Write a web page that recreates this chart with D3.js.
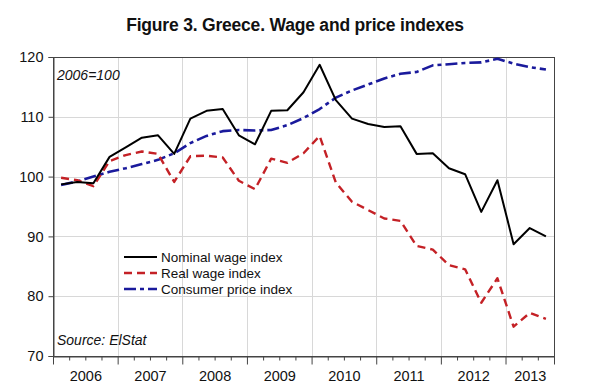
<!DOCTYPE html>
<html>
<head>
<meta charset="utf-8">
<script src="https://cdn.jsdelivr.net/npm/d3@7"></script>
<style>
  html, body { margin: 0; padding: 0; background: #fff; }
  svg { display: block; font-family: "Liberation Sans", Arial, sans-serif; }
</style>
</head>
<body>
<svg id="chart" width="600" height="391"></svg>
<script>
// ---- Data (quarterly, 2006Q1 - 2013Q3), 2006 = 100 ----
const years = ["2006", "2007", "2008", "2009", "2010", "2011", "2012", "2013"];
const quarters = [];
years.forEach(y => ["Q1", "Q2", "Q3", "Q4"].forEach(q => quarters.push(y + q)));
quarters.splice(31); // last observation 2013Q3

const nominalWage = [98.7, 99.1, 98.9, 103.3, 104.9, 106.5, 106.9, 103.8, 109.7, 111.0, 111.3, 106.9,
  105.4, 111.0, 111.1, 114.1, 118.7, 112.8, 109.7, 108.8, 108.3, 108.4, 103.8, 103.9,
  101.4, 100.4, 94.1, 99.4, 88.7, 91.4, 90.0];
const realWage = [99.8, 99.4, 98.4, 102.6, 103.6, 104.2, 103.8, 99.1, 103.4, 103.5, 103.2, 99.3,
  97.9, 103.0, 102.3, 103.9, 106.8, 99.0, 95.8, 94.4, 93.0, 92.6, 88.4, 87.8,
  85.2, 84.5, 78.9, 83.0, 74.9, 77.2, 76.2];
const cpi = [98.6, 99.2, 100.0, 100.8, 101.4, 102.1, 102.8, 103.9, 105.6, 106.8, 107.6, 107.8,
  107.7, 107.8, 108.6, 109.8, 111.3, 113.2, 114.4, 115.4, 116.4, 117.2, 117.5, 118.6,
  118.8, 119.0, 119.1, 119.7, 118.9, 118.3, 117.9];
const yTicks = [70, 80, 90, 100, 110, 120];
const seriesNames = ["Nominal wage index", "Real wage index", "Consumer price index"];

// ---- Layout ----
const svg = d3.select("#chart");
const W = 600, H = 391;
const m = { left: 53, right: 46, top: 57, bottom: 35 };
const iw = W - m.left - m.right, ih = H - m.top - m.bottom;
const n = quarters.length;

const x = d3.scaleLinear().domain([0, n]).range([m.left, m.left + iw]);
const y = d3.scaleLinear().domain([70, 120]).range([m.top + ih, m.top]);

// Title
svg.append("text")
  .attr("x", 295).attr("y", 31)
  .attr("text-anchor", "middle")
  .attr("font-size", 17.5).attr("font-weight", "bold")
  .attr("letter-spacing", -0.2)
  .attr("fill", "#111")
  .text("Figure 3. Greece. Wage and price indexes");

// Gridlines
const grid = svg.append("g").attr("stroke", "#d8d8d8").attr("stroke-width", 1);
yTicks.filter(v => v > 70 && v < 120).forEach(v => {
  grid.append("line").attr("x1", m.left).attr("x2", m.left + iw)
    .attr("y1", Math.round(y(v)) + 0.5).attr("y2", Math.round(y(v)) + 0.5);
});
years.slice(1).forEach((yr, k) => {
  const xv = Math.round(x((k + 1) * 4)) + 0.5;
  grid.append("line").attr("x1", xv).attr("x2", xv).attr("y1", m.top).attr("y2", m.top + ih);
});

// Frame
svg.append("rect")
  .attr("x", m.left + 0.5).attr("y", m.top + 0.5)
  .attr("width", iw).attr("height", ih)
  .attr("fill", "none").attr("stroke", "#444").attr("stroke-width", 1);

// Y axis
const yAxis = svg.append("g")
  .attr("transform", `translate(${m.left + 0.5},0)`)
  .call(d3.axisLeft(y).tickValues(yTicks).tickSize(5).tickPadding(5));
yAxis.select(".domain").attr("stroke", "#444");
yAxis.selectAll(".tick line").attr("stroke", "#444");
yAxis.selectAll("text").attr("font-size", 14.5).attr("fill", "#111")
  .attr("font-family", "Liberation Sans, Arial, sans-serif");

// X axis: minor (quarter) ticks and major (year) ticks
const qBounds = d3.range(0, n + 1);
const xMinor = svg.append("g")
  .attr("transform", `translate(0,${m.top + ih + 0.5})`)
  .call(d3.axisBottom(x).tickValues(qBounds.filter(v => v % 4 !== 0 && v !== n)).tickSize(4).tickFormat(""));
xMinor.select(".domain").attr("stroke", "#444");
xMinor.selectAll(".tick line").attr("stroke", "#444");
const xMajor = svg.append("g")
  .attr("transform", `translate(0,${m.top + ih + 0.5})`)
  .call(d3.axisBottom(x).tickValues(qBounds.filter(v => v % 4 === 0 || v === n)).tickSize(8).tickFormat(""));
xMajor.select(".domain").remove();
xMajor.selectAll(".tick line").attr("stroke", "#444");

// Year labels centred on their span
const yearCenters = years.map((yr, k) => {
  const start = k * 4, end = Math.min(n, start + 4);
  return (start + end) / 2;
});
const xLab = svg.append("g")
  .attr("transform", `translate(0,${m.top + ih + 0.5})`)
  .call(d3.axisBottom(x).tickValues(yearCenters).tickSize(0).tickPadding(14)
    .tickFormat((d, i) => years[i]));
xLab.select(".domain").remove();
xLab.selectAll("text").attr("font-size", 14.5).attr("fill", "#111")
  .attr("font-family", "Liberation Sans, Arial, sans-serif");

// Lines
const line = d3.line().x((d, i) => x(i + 0.5)).y(d => y(d));
const styles = [
  { data: nominalWage, color: "#000000", width: 2, dash: null },
  { data: realWage, color: "#c42126", width: 2.4, dash: "8,5" },
  { data: cpi, color: "#1a1a9c", width: 2.6, dash: "12,4,4,4" }
];
// draw CPI first, then real, then nominal on top
[2, 1, 0].forEach(k => {
  const s = styles[k];
  svg.append("path").datum(s.data)
    .attr("d", line)
    .attr("fill", "none")
    .attr("stroke", s.color)
    .attr("stroke-width", s.width)
    .attr("stroke-linejoin", "round")
    .attr("stroke-dasharray", s.dash);
});

// Annotations
svg.append("text").attr("x", 57).attr("y", 80)
  .attr("font-size", 14).attr("font-style", "italic").attr("fill", "#111")
  .text("2006=100");
svg.append("text").attr("x", 57).attr("y", 345)
  .attr("font-size", 14).attr("font-style", "italic").attr("fill", "#111")
  .text("Source: ElStat");

// Legend
const legend = svg.append("g");
seriesNames.forEach((name, k) => {
  const s = styles[k];
  const ly = 257 + k * 16;
  legend.append("line")
    .attr("x1", 124).attr("x2", 157).attr("y1", ly).attr("y2", ly)
    .attr("stroke", s.color).attr("stroke-width", s.width)
    .attr("stroke-dasharray", s.dash);
  legend.append("text")
    .attr("x", 161).attr("y", ly + 5)
    .attr("font-size", 13.5).attr("fill", "#111")
    .text(name);
});
</script>
</body>
</html>
